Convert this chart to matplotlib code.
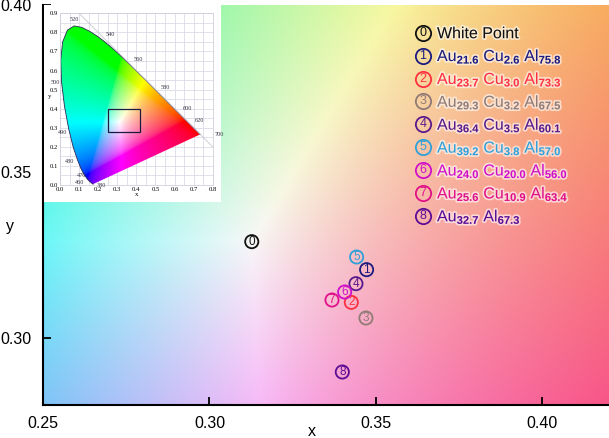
import numpy as np
import matplotlib
matplotlib.use("Agg")
import matplotlib.pyplot as plt
import matplotlib.patheffects as pe
from matplotlib.patches import Polygon, Rectangle

plt.rcParams['font.family'] = ['Liberation Sans', 'DejaVu Sans']
plt.rcParams['mathtext.fontset'] = 'custom'
plt.rcParams['mathtext.rm'] = 'Liberation Sans'
plt.rcParams['mathtext.bf'] = 'Liberation Sans:bold'
plt.rcParams['mathtext.it'] = 'Liberation Sans:italic'

# measured chromaticity points (0 = white point)
point_ids = [0, 1, 2, 3, 4, 5, 6, 7, 8]
point_x = [0.3127, 0.3472, 0.3426, 0.3470, 0.3440, 0.3442, 0.3406, 0.3368, 0.3399]
point_y = [0.3290, 0.3206, 0.3108, 0.3061, 0.3164, 0.3244, 0.3139, 0.3115, 0.2899]
point_colors = ['#111111', '#1c1c80', '#ff3040', '#917b76', '#5a1a8c',
                '#30a0d8', '#d010c8', '#e01088', '#5c0c94']
compositions = [
    None,
    [("Au", "21.6"), ("Cu", "2.6"), ("Al", "75.8")],
    [("Au", "23.7"), ("Cu", "3.0"), ("Al", "73.3")],
    [("Au", "29.3"), ("Cu", "3.2"), ("Al", "67.5")],
    [("Au", "36.4"), ("Cu", "3.5"), ("Al", "60.1")],
    [("Au", "39.2"), ("Cu", "3.8"), ("Al", "57.0")],
    [("Au", "24.0"), ("Cu", "20.0"), ("Al", "56.0")],
    [("Au", "25.6"), ("Cu", "10.9"), ("Al", "63.4")],
    [("Au", "32.7"), ("Al", "67.3")],
]

# CIE 1931 spectral locus
wl = [380, 400, 420, 440, 450, 460, 470, 475, 480, 485, 490, 495, 500, 505, 510,
      515, 520, 525, 530, 535, 540, 545, 550, 555, 560, 565, 570, 575, 580, 585,
      590, 595, 600, 610, 620, 630, 640, 700]
locus_x = [0.1741, 0.1733, 0.1714, 0.1644, 0.1566, 0.1440, 0.1241, 0.1096, 0.0913,
           0.0687, 0.0454, 0.0235, 0.0082, 0.0039, 0.0139, 0.0389, 0.0743, 0.1142,
           0.1547, 0.1929, 0.2296, 0.2658, 0.3016, 0.3373, 0.3731, 0.4087, 0.4441,
           0.4788, 0.5125, 0.5448, 0.5752, 0.6029, 0.6270, 0.6658, 0.6915, 0.7079,
           0.7190, 0.7347]
locus_y = [0.0050, 0.0048, 0.0051, 0.0109, 0.0177, 0.0297, 0.0578, 0.0868, 0.1327,
           0.2007, 0.2950, 0.4127, 0.5384, 0.6548, 0.7502, 0.8120, 0.8338, 0.8262,
           0.8059, 0.7816, 0.7543, 0.7243, 0.6923, 0.6589, 0.6245, 0.5896, 0.5547,
           0.5202, 0.4866, 0.4544, 0.4242, 0.3965, 0.3725, 0.3340, 0.3083, 0.2920,
           0.2809, 0.2653]
wl_labels = ["520", "540", "560", "580", "600", "620", "700",
             "500", "490", "480", "470", "460", "380"]
wl_label_x = [0.073, 0.262, 0.41, 0.55, 0.667, 0.733, 0.833,
              -0.025, 0.015, 0.05, 0.112, 0.105, 0.215]
wl_label_y = [0.87, 0.788, 0.656, 0.512, 0.399, 0.336, 0.264,
              0.538, 0.274, 0.122, 0.049, 0.012, -0.005]

xlim = (0.25, 0.42)
ylim = (0.28, 0.40)


def chroma_rgb(x, y, sat=1.0, scale=1.0):
    y = np.maximum(y, 1e-3)
    X = x / y
    Z = (1 - x - y) / y
    Y = np.ones_like(x)
    r = 3.2406 * X - 1.5372 * Y - 0.4986 * Z
    g = -0.9689 * X + 1.8758 * Y + 0.0415 * Z
    b = 0.0557 * X - 0.2040 * Y + 1.0570 * Z
    rgb = np.clip(np.dstack([r, g, b]), 0, None)
    rgb = (rgb / rgb.max(axis=2, keepdims=True)) ** sat
    rgb = np.where(rgb <= 0.0031308, 12.92 * rgb, 1.055 * rgb ** (1 / 2.4) - 0.055)
    return np.clip(rgb * scale, 0, 1)


W, H = 609, 438
fig = plt.figure(figsize=(W / 100, H / 100), dpi=100)
fig.patch.set_facecolor('white')


def fx(px):
    return px / W


def fy(py):
    return 1 - py / H


ax = fig.add_axes([fx(43), fy(405), 566 / W, 400 / H])
gx, gy = np.meshgrid(np.linspace(*xlim, 300), np.linspace(*ylim, 300))
ax.imshow(chroma_rgb(gx, gy, sat=1.3, scale=0.97), extent=[*xlim, *ylim],
          origin='lower', aspect='auto', interpolation='bilinear', zorder=0)
ax.set_xlim(*xlim)
ax.set_ylim(*ylim)
ax.set_xticks([0.25, 0.30, 0.35, 0.40])
ax.set_yticks([0.30, 0.35, 0.40])
ax.set_xticklabels(["%.2f" % v for v in [0.25, 0.30, 0.35, 0.40]])
ax.set_yticklabels(["%.2f" % v for v in [0.30, 0.35, 0.40]])
ax.tick_params(direction='in', length=6, width=1.3, labelsize=11.5, pad=8)
for s in ['top', 'right']:
    ax.spines[s].set_visible(False)
for s in ['left', 'bottom']:
    ax.spines[s].set_linewidth(1.5)
fig.text(fx(312), fy(432), "x", fontsize=11.5, ha='center', va='center')
fig.text(fx(10), fy(226), "y", fontsize=11.5, ha='center', va='center')

# points
ax.scatter(point_x, point_y, s=90, facecolors='none', edgecolors=point_colors,
           linewidths=1.3, zorder=3)
for i, x, y, c in zip(point_ids, point_x, point_y, point_colors):
    ax.text(x, y, str(i), color=c, fontsize=8.5, ha='center', va='center', zorder=4)

# legend
halo = [pe.withStroke(linewidth=2.5, foreground='white', alpha=0.6)]
for i, comp, c in zip(point_ids, compositions, point_colors):
    yrow = 32.7 + 22.9 * i
    ax.plot([fx(422.7)], [fy(yrow)], 'o', transform=fig.transFigure, mfc='none',
            mec=c, ms=11, mew=1.3, clip_on=False, zorder=5)
    fig.text(fx(422.7), fy(yrow), str(i), color=c, fontsize=9, ha='center',
             va='center', zorder=6)
    if comp is None:
        label = "White Point"
    else:
        label = " ".join("%s$_{\\mathbf{%s}}$" % (el, n) for el, n in comp)
    fig.text(fx(437), fy(yrow + 5.5), label, color=c, fontsize=11.5, ha='left',
             va='baseline', path_effects=halo, zorder=6)

# inset panel
panel = fig.add_axes([fx(44), fy(202), 177 / W, 197 / H])
panel.set_facecolor('white')
panel.set_xticks([])
panel.set_yticks([])
for s in panel.spines.values():
    s.set_visible(False)

ins = fig.add_axes([fx(60), fy(185), 152.7 / W, 171.7 / H])
ins.set_xlim(0, 0.8)
ins.set_ylim(0, 0.9)
ins.set_axisbelow(True)
ins.set_xticks(np.arange(0, 0.81, 0.1))
ins.set_yticks(np.arange(0, 0.91, 0.1))
ins.set_xticks(np.arange(0, 0.81, 0.05), minor=True)
ins.set_yticks(np.arange(0, 0.91, 0.05), minor=True)
ins.set_xticklabels(["%.1f" % v for v in np.arange(0, 0.81, 0.1)])
ins.set_yticklabels(["%.1f" % v for v in np.arange(0, 0.91, 0.1)])
ins.grid(which='both', color='#dcdce8', lw=0.6)
ins.tick_params(which='both', length=0, labelsize=4.8, pad=1.5)
for lab in ins.get_xticklabels() + ins.get_yticklabels():
    lab.set_family(['Liberation Serif', 'DejaVu Serif'])
for s in ins.spines.values():
    s.set_color('#d0d0dc')
    s.set_linewidth(0.6)
ins.set_xlabel("x", fontsize=5, family='Liberation Serif', labelpad=0)
ins.set_ylabel("y", fontsize=5, family='Liberation Serif', labelpad=0, rotation=0)

ix, iy = np.meshgrid(np.linspace(0, 0.8, 400), np.linspace(0, 0.9, 400))
img = ins.imshow(chroma_rgb(ix, iy), extent=[0, 0.8, 0, 0.9], origin='lower',
                 aspect='auto', interpolation='bilinear', zorder=1)
horseshoe = Polygon(np.column_stack([locus_x, locus_y]), closed=True,
                    transform=ins.transData)
img.set_clip_path(horseshoe)
ins.plot(locus_x, locus_y, color='#2a2a55', lw=0.6, zorder=2)
ins.plot([0.1, 0.8], [0.9, 0.2], color='#c8c8d0', lw=0.6, zorder=2)
ins.add_patch(Rectangle((xlim[0], ylim[0]), xlim[1] - xlim[0], ylim[1] - ylim[0],
                        fill=False, ec='#1a1a40', lw=0.9, zorder=3))
for t, x, y in zip(wl_labels, wl_label_x, wl_label_y):
    ins.text(x, y, t, fontsize=4.5, family=['Liberation Serif', 'DejaVu Serif'],
             color='#333344', ha='center', va='center', zorder=4, clip_on=False)

fig.savefig("out.png", dpi=100)
